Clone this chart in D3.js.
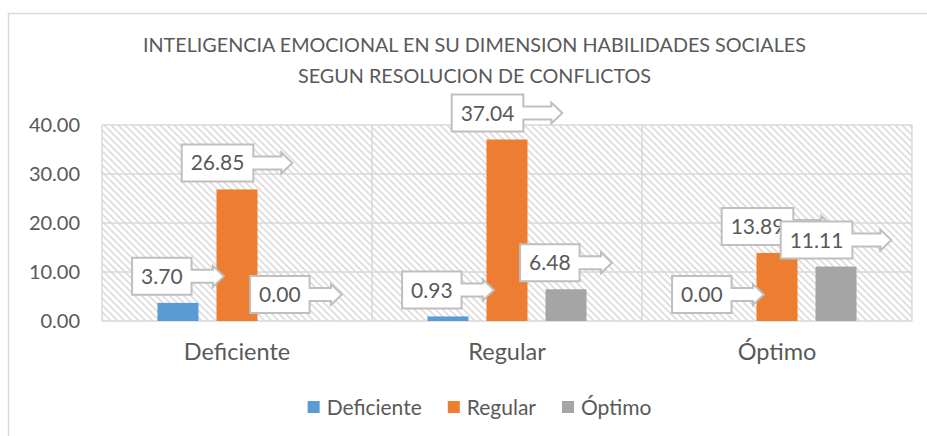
<!DOCTYPE html>
<html>
<head>
<meta charset="utf-8">
<script src="https://cdnjs.cloudflare.com/ajax/libs/d3/7.8.5/d3.min.js"></script>
<style>
  body { margin: 0; background: #fff; }
  svg { display: block; font-family: Lato, 'Open Sans', sans-serif; }
</style>
</head>
<body>
<div id="chart"></div>
<script>
// data
const categories = ['Deficiente', 'Regular', 'Óptimo']
const seriesNames = ['Deficiente', 'Regular', 'Óptimo']
const deficiente = [3.70, 0.93, 0.00]
const regular = [26.85, 37.04, 13.89]
const optimo = [0.00, 6.48, 11.11]
const yTicks = [0, 10, 20, 30, 40]
const titleLines = ['INTELIGENCIA EMOCIONAL EN SU DIMENSION HABILIDADES SOCIALES', 'SEGUN RESOLUCION DE CONFLICTOS']

const colors = ['#5b9bd5', '#ed7d31', '#a5a5a5']
const textColor = '#595959'
const gridColor = '#d9d9d9'

const width = 927
const height = 436
const plot = { left: 102, right: 912, top: 125, bottom: 321 }

const series = seriesNames.map((name, i) => ({
    name: name,
    color: colors[i],
    values: [deficiente, regular, optimo][i]
}))

const svg = d3.select('#chart').append('svg')
    .attr('width', width).attr('height', height)

// hatch fill of the plot area
const defs = svg.append('defs')
const pat = defs.append('pattern')
    .attr('id', 'hatch').attr('patternUnits', 'userSpaceOnUse')
    .attr('width', 7).attr('height', 7)
pat.append('path')
    .attr('d', 'M-2,-2 L9,9 M-2,5 L2,9 M5,-2 L9,2')
    .attr('stroke', '#dcdcdc').attr('stroke-width', 1.6)

// outer chart frame (runs off the right / bottom)
svg.append('rect')
    .attr('x', 8.5).attr('y', 13.5).attr('width', 1000).attr('height', 1000)
    .attr('fill', 'none').attr('stroke', gridColor).attr('stroke-width', 1.5)

const x0 = d3.scaleBand().domain(categories).range([plot.left, plot.right])
const x1 = d3.scaleBand().domain(seriesNames).range([0, x0.bandwidth()])
    .paddingInner(0.305).paddingOuter(0.94)
const y = d3.scaleLinear().domain([0, 40]).range([plot.bottom, plot.top])

svg.append('rect')
    .attr('x', plot.left).attr('y', plot.top)
    .attr('width', plot.right - plot.left).attr('height', plot.bottom - plot.top)
    .attr('fill', 'url(#hatch)')

// horizontal gridlines
svg.append('g').selectAll('line').data(yTicks).enter().append('line')
    .attr('x1', plot.left).attr('x2', plot.right)
    .attr('y1', d => y(d)).attr('y2', d => y(d))
    .attr('stroke', gridColor).attr('stroke-width', 1.5)

// vertical lines between categories + plot edges
const vx = categories.map(c => x0(c)).concat([plot.right])
svg.append('g').selectAll('line').data(vx).enter().append('line')
    .attr('x1', d => d).attr('x2', d => d)
    .attr('y1', plot.top).attr('y2', plot.bottom)
    .attr('stroke', gridColor).attr('stroke-width', 1.5)

// y tick labels
const yAxis = svg.append('g').attr('transform', `translate(${plot.left},0)`)
    .call(d3.axisLeft(y).tickValues(yTicks).tickFormat(d3.format('.2f')).tickSize(0).tickPadding(22))
yAxis.select('.domain').remove()
yAxis.selectAll('text')
    .attr('fill', textColor).style('font-size', '20px').style('font-family', 'Lato, sans-serif')

// category labels
const xAxis = svg.append('g').attr('transform', `translate(0,${plot.bottom})`)
    .call(d3.axisBottom(x0).tickSize(0).tickPadding(22))
xAxis.select('.domain').remove()
xAxis.selectAll('text')
    .attr('fill', textColor).style('font-size', '23.5px').style('font-family', 'Lato, sans-serif')

// bars
series.forEach(s => {
    svg.append('g').selectAll('rect').data(s.values).enter().append('rect')
        .attr('x', (d, i) => x0(categories[i]) + x1(s.name))
        .attr('y', d => y(d))
        .attr('width', x1.bandwidth())
        .attr('height', d => y(0) - y(d))
        .attr('fill', s.color)
})

// arrow callout data labels
const boxH = 37
series.forEach(s => {
    s.values.forEach((v, i) => {
        const cx = x0(categories[i]) + x1(s.name) + x1.bandwidth() / 2
        const g = svg.append('g')
        const path = g.append('path')
        const t = g.append('text')
            .text(d3.format('.2f')(v))
            .attr('fill', textColor).style('font-size', '21px')
            .attr('text-anchor', 'middle')
        const tw = t.node().getComputedTextLength()
        const w = tw + 18
        const total = w / 0.648
        const left = cx - total / 2
        const bottom = y(v) - 8
        const top = bottom - boxH
        const cy = top + boxH / 2
        const r = left + w
        const tip = left + total
        const head = 11
        path.attr('d', `M${left},${top} H${r} V${cy - 6.5} H${tip - head} V${cy - 10.5} L${tip},${cy} ` +
                `L${tip - head},${cy + 10.5} V${cy + 6.5} H${r} V${bottom} H${left} Z`)
            .attr('fill', '#fff').attr('stroke', '#bfbfbf').attr('stroke-width', 2)
        t.attr('x', left + w / 2).attr('y', cy).attr('dy', '0.36em')
    })
})

// title
svg.append('g').selectAll('text').data(titleLines).enter().append('text')
    .attr('x', 474.5).attr('y', (d, i) => 52 + i * 31)
    .attr('text-anchor', 'middle')
    .attr('fill', textColor).style('font-size', '19px')
    .attr('textLength', (d, i) => i === 0 ? 663 : 353)
    .attr('lengthAdjust', 'spacingAndGlyphs')
    .text(d => d)

// legend
const legend = svg.append('g')
const items = legend.selectAll('g').data(series).enter().append('g')
items.append('rect').attr('width', 12).attr('height', 12).attr('y', -6).attr('fill', d => d.color)
items.append('text').attr('x', 19).attr('dy', '0.36em')
    .attr('fill', textColor).style('font-size', '21px').text(d => d.name)
let lx = 0
items.each(function () {
    const tw = d3.select(this).select('text').node().getComputedTextLength()
    d3.select(this).attr('transform', `translate(${lx},0)`)
    lx += 19 + tw + 26
})
lx -= 26
legend.attr('transform', `translate(${479.5 - lx / 2},407)`)
</script>
</body>
</html>
